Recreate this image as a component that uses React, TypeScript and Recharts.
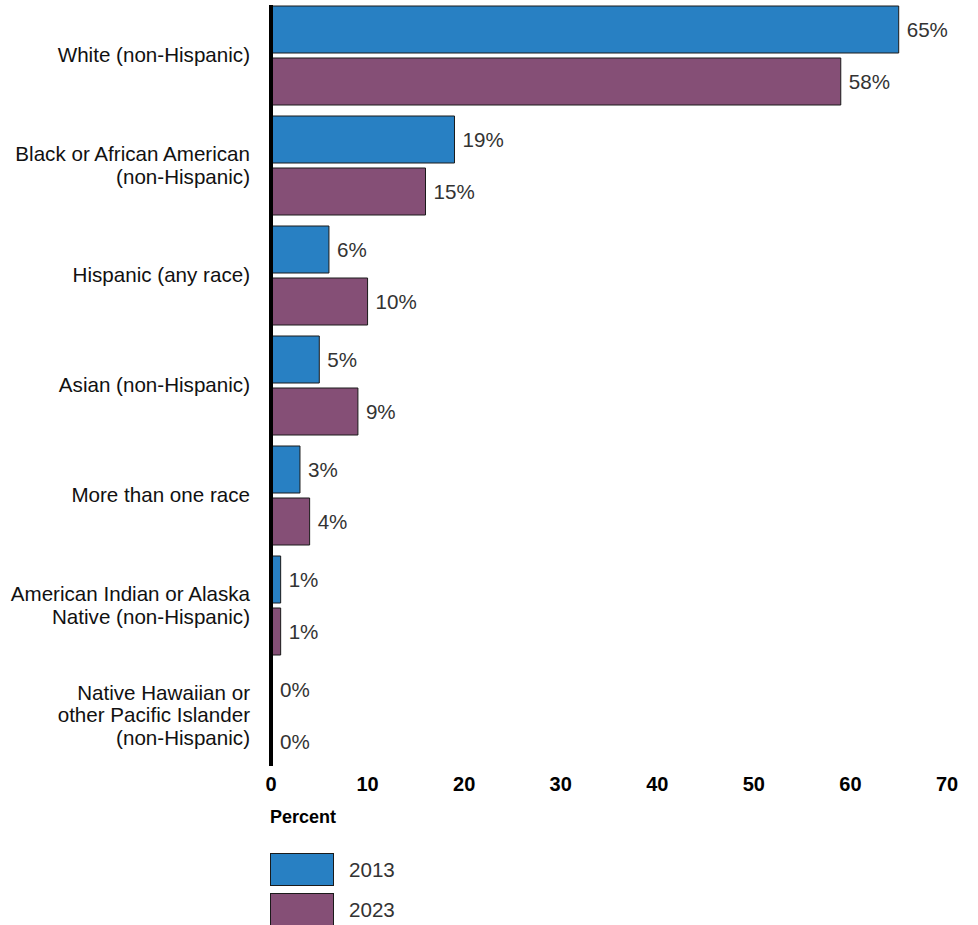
import React from 'react';
import { BarChart, Bar, XAxis, YAxis, LabelList } from 'recharts';

const categories = [
  'White (non-Hispanic)',
  'Black or African American\n(non-Hispanic)',
  'Hispanic (any race)',
  'Asian (non-Hispanic)',
  'More than one race',
  'American Indian or Alaska\nNative (non-Hispanic)',
  'Native Hawaiian or\nother Pacific Islander\n(non-Hispanic)',
];
const values2013 = [65, 19, 6, 5, 3, 1, 0];
const values2023 = [59, 16, 10, 9, 4, 1, 0];
const labels2013 = ['65%', '19%', '6%', '5%', '3%', '1%', '0%'];
const labels2023 = ['58%', '15%', '10%', '9%', '4%', '1%', '0%'];
const xTicks = [0, 10, 20, 30, 40, 50, 60, 70];
const series = [
  { key: 'v2013', labelKey: 'l2013', name: '2013', color: '#2880c3' },
  { key: 'v2023', labelKey: 'l2023', name: '2023', color: '#854f76' },
];

const data = categories.map((name, i) => ({
  name,
  v2013: values2013[i],
  v2023: values2023[i],
  l2013: labels2013[i],
  l2023: labels2023[i],
}));

const FONT = '"Liberation Sans", Arial, sans-serif';

const CategoryTick = (props: any) => {
  const { x, y, payload } = props;
  const lines = String(payload.value).split('\n');
  const lh = 22.5;
  return (
    <text x={x} y={y} textAnchor="end" fontFamily={FONT} fontSize={20.6} fill="#111">
      {lines.map((ln, i) => (
        <tspan key={i} x={x} y={y + (i - (lines.length - 1) / 2) * lh} dy="0.355em">
          {ln}
        </tspan>
      ))}
    </text>
  );
};

const PercentLabel = (props: any) => {
  const { viewBox } = props;
  return (
    <text x={viewBox.x - 1} y={823} fontFamily={FONT} fontSize={18} fontWeight="bold" fill="#000">
      Percent
    </text>
  );
};

export default function App() {
  return (
    <div style={{ position: 'absolute', left: 0, top: 0, width: 978, height: 925, background: '#fff', fontFamily: FONT }}>
      <BarChart
        width={978}
        height={925}
        data={data}
        layout="vertical"
        margin={{ top: 0, right: 31, left: 0, bottom: 125 }}
        barSize={47}
        barGap={5}
      >
        <XAxis
          type="number"
          domain={[0, 70]}
          ticks={xTicks}
          axisLine={false}
          tickLine={false}
          tickSize={0}
          tickMargin={7}
          height={30}
          tick={{ fontFamily: FONT, fontSize: 20, fontWeight: 'bold', fill: '#000' }}
          label={<PercentLabel />}
        />
        <YAxis
          type="category"
          dataKey="name"
          width={271}
          tickLine={false}
          tickSize={0}
          tickMargin={21}
          axisLine={{ stroke: '#000', strokeWidth: 4, strokeDasharray: '0 5 761 100' }}
          tick={<CategoryTick />}
          interval={0}
        />
        {series.map((s) => (
          <Bar
            key={s.key}
            dataKey={s.key}
            name={s.name}
            fill={s.color}
            stroke="#1a1a1a"
            strokeWidth={1}
            minPointSize={1}
            isAnimationActive={false}
          >
            <LabelList
              dataKey={s.labelKey}
              position="right"
              offset={8}
              style={{ fontFamily: FONT, fontSize: 20.6, fill: '#333' }}
            />
          </Bar>
        ))}
      </BarChart>
      {series.map((s, i) => (
        <div
          key={s.key}
          style={{ position: 'absolute', left: 270, top: 853 + i * 40, display: 'flex', alignItems: 'center' }}
        >
          <div style={{ width: 62, height: 31, background: s.color, border: '1px solid #1a1a1a' }} />
          <span style={{ marginLeft: 15, fontSize: 20.6, color: '#333', fontFamily: FONT, lineHeight: '33px' }}>{s.name}</span>
        </div>
      ))}
    </div>
  );
}
